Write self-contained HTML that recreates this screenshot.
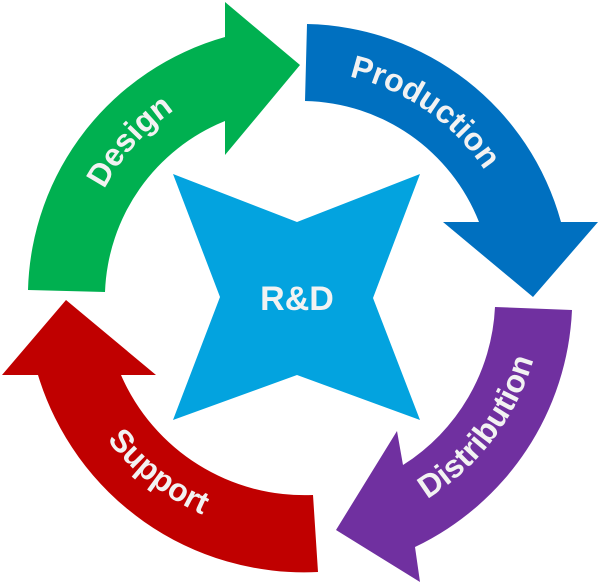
<!DOCTYPE html>
<html><head><meta charset="utf-8"><style>
html,body{margin:0;padding:0;background:#fff;}
svg{display:block;}
text{font-family:"Liberation Sans",sans-serif;font-weight:bold;fill:#F2F2F2;}
</style></head><body>
<svg width="600" height="584" viewBox="0 0 600 584" xmlns="http://www.w3.org/2000/svg">
<defs>
<path id="cw" d="M79,292 A221,221 0 0,1 521,292 A221,221 0 0,1 79,292"/>
<path id="ccw" d="M57,292 A243,243 0 0,0 543,292 A243,243 0 0,0 57,292"/>
</defs>
<path fill="#00B050" d="M28,290 A270,270 0 0,1 225,37 L225,2 L300,65 L225,155 L225,121 A192,192 0 0,0 105,292 Z"/>
<path fill="#0070C0" d="M307,24 A269,269 0 0,1 561,222 L598,222 L533,297 L443,222 L479,222 A191,191 0 0,0 305,101 Z"/>
<path fill="#7030A0" d="M572,310 A276,276 0 0,1 415,547 L420,582 L336,530 L397,431 L403,465 A198,198 0 0,0 495,307 Z"/>
<path fill="#C00000" d="M318,572 A278,278 0 0,1 38,375 L2,375 L66,300 L156,375 L121,375 A200,200 0 0,0 313,495 Z"/>
<path fill="#03A3DF" d="M173,174 L297,222 L420,174 L373,298 L420,420 L297,375 L173,420 L220,297 Z"/>
<text x="297" y="310" font-size="34" text-anchor="middle">R&amp;D</text>
<text font-size="32" text-anchor="middle"><textPath href="#cw" startOffset="160">Design</textPath></text>
<text font-size="32" text-anchor="middle"><textPath href="#cw" startOffset="481">Production</textPath></text>
<text font-size="32" text-anchor="middle"><textPath href="#ccw" startOffset="605">Distribution</textPath></text>
<text font-size="32" text-anchor="middle"><textPath href="#ccw" startOffset="220">Support</textPath></text>
</svg>
</body></html>
